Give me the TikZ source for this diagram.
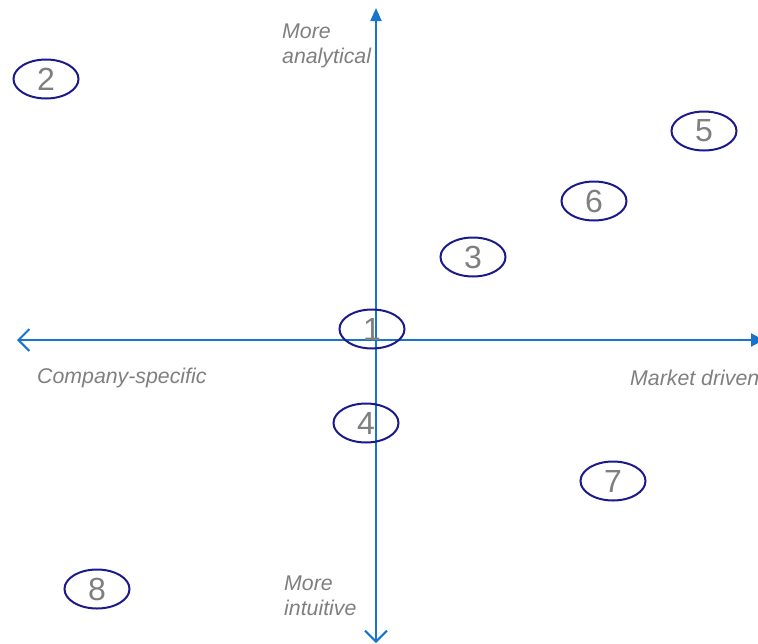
\documentclass[tikz,border=0pt]{standalone}
\usepackage{fontspec}
\setmainfont{Liberation Sans}
\usetikzlibrary{arrows.meta,shapes.geometric}
\definecolor{axisblue}{HTML}{1874CD}
\definecolor{ringnavy}{HTML}{1A1A8A}
\definecolor{txtgray}{HTML}{7F7F7F}
\begin{document}
\begin{tikzpicture}[x=1pt,y=-1pt,
  axis/.style={draw=axisblue,line width=2pt},
  openhead/.style={-{Straight Barb[length=11pt,width=22pt,line width=2pt]}},
  ring/.style={draw=ringnavy,line width=2pt,ellipse,minimum width=65pt,minimum height=39pt,inner sep=0pt,
    text=txtgray,font=\fontsize{32}{32}\selectfont},
  axlabel/.style={text=txtgray,font=\itshape\fontsize{21.3}{25.5}\selectfont,inner sep=0pt}]
\useasboundingbox (0,0) rectangle (758,643);
% axis ends
\coordinate (origin) at (376,340);
\coordinate (top) at (376,8);
\coordinate (bottom) at (376,643);
\coordinate (left) at (17,340);
\coordinate (right) at (764,340);
% axes
\draw[axis,-{Triangle[length=13pt,width=11pt]}] (origin) -- (top);
\draw[axis,openhead] (origin) -- (bottom);
\draw[axis,-{Triangle[length=13pt,width=13pt]}] (origin) -- (right);
\draw[axis,openhead] (origin) -- (left);
% axis labels
\node[axlabel,anchor=west,align=left] (analytical) at (282,46) {More\\analytical};
\node[axlabel,anchor=west,align=left] (intuitive) at (284,596) {More\\intuitive};
\node[axlabel,anchor=west] (company) at (37,378) {Company-specific};
\node[axlabel,anchor=west] (market) at (630,378) {Market driven};
% numbered positions
\node[ring] (n2) at (46,79) {2};
\node[ring] (n5) at (704,131) {5};
\node[ring] (n6) at (594,201) {6};
\node[ring] (n3) at (473,257) {3};
\node[ring] (n1) at (372,329) {1};
\node[ring] (n4) at (366,423) {4};
\node[ring] (n7) at (613,481) {7};
\node[ring] (n8) at (97,589) {8};
\end{tikzpicture}
\end{document}
